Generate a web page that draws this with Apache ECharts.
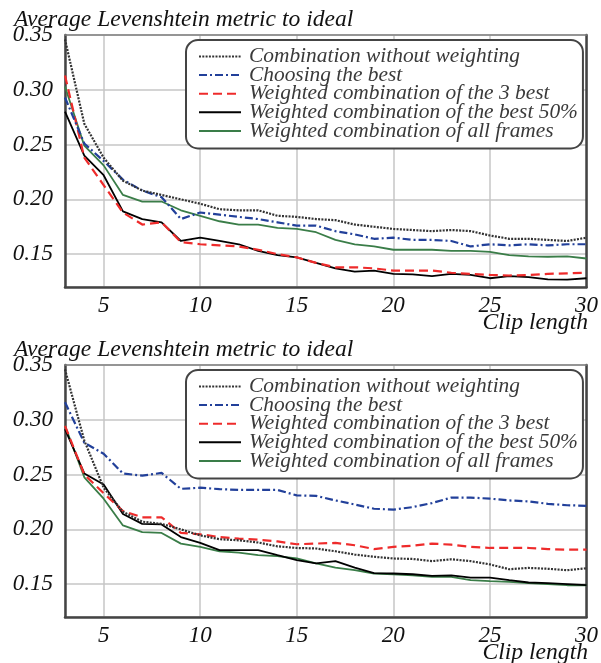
<!DOCTYPE html>
<html>
<head>
<meta charset="utf-8">
<script src="https://cdn.jsdelivr.net/npm/echarts@6/dist/echarts.min.js"></script>
<style>html,body{margin:0;padding:0;background:#fff}#c{width:601px;height:663px}</style>
</head>
<body>
<div id="c"></div>
<script>
const clipLengths = [3,4,5,6,7,8,9,10,11,12,13,14,15,16,17,18,19,20,21,22,23,24,25,26,27,28,29,30];
const seriesNames = ['Combination without weighting','Choosing the best','Weighted combination of the 3 best','Weighted combination of the best 50%','Weighted combination of all frames'];
const titleText = 'Average Levenshtein metric to ideal';
const xName = 'Clip length';

const noWeightTop = [0.346,0.269,0.238,0.217,0.208,0.204,0.200,0.196,0.191,0.190,0.190,0.185,0.184,0.182,0.181,0.177,0.175,0.173,0.172,0.171,0.172,0.171,0.167,0.164,0.164,0.163,0.162,0.165];
const bestTop = [0.293,0.251,0.235,0.218,0.208,0.202,0.182,0.188,0.186,0.184,0.182,0.179,0.176,0.176,0.171,0.168,0.164,0.165,0.163,0.163,0.162,0.157,0.159,0.158,0.159,0.158,0.159,0.159];
const best3Top = [0.313,0.238,0.213,0.188,0.177,0.179,0.161,0.159,0.158,0.157,0.154,0.150,0.147,0.142,0.138,0.138,0.137,0.135,0.135,0.135,0.133,0.132,0.131,0.1305,0.131,0.132,0.1325,0.133];
const best50Top = [0.280,0.240,0.222,0.189,0.182,0.179,0.162,0.165,0.162,0.159,0.153,0.149,0.147,0.142,0.137,0.134,0.135,0.132,0.1315,0.130,0.132,0.131,0.128,0.130,0.129,0.127,0.1267,0.128];
const allTop = [0.303,0.249,0.231,0.204,0.198,0.198,0.190,0.185,0.180,0.177,0.177,0.174,0.173,0.170,0.163,0.159,0.157,0.154,0.154,0.154,0.153,0.153,0.152,0.149,0.148,0.1476,0.148,0.146];

const noWeightBot = [0.346,0.281,0.238,0.216,0.207,0.205,0.200,0.1945,0.191,0.190,0.188,0.1845,0.183,0.1825,0.180,0.177,0.175,0.1734,0.173,0.171,0.1727,0.171,0.168,0.1636,0.1648,0.164,0.1627,0.1645];
const bestBot = [0.316,0.279,0.269,0.251,0.249,0.2515,0.237,0.238,0.2367,0.236,0.236,0.236,0.231,0.2306,0.2264,0.2227,0.2188,0.218,0.2203,0.224,0.229,0.229,0.228,0.2264,0.2255,0.2233,0.222,0.2215];
const best3Bot = [0.2945,0.250,0.233,0.2167,0.211,0.211,0.1967,0.1955,0.193,0.1915,0.1906,0.189,0.1864,0.187,0.1876,0.1855,0.182,0.184,0.185,0.187,0.186,0.184,0.183,0.183,0.183,0.182,0.1815,0.1815];
const best50Bot = [0.2915,0.251,0.241,0.214,0.205,0.2045,0.193,0.1876,0.181,0.181,0.181,0.1764,0.172,0.169,0.171,0.165,0.160,0.1597,0.159,0.1576,0.158,0.156,0.156,0.1536,0.1515,0.151,0.150,0.149];
const allBot = [0.2945,0.2475,0.228,0.2036,0.1975,0.1967,0.187,0.184,0.180,0.1788,0.1764,0.1755,0.1734,0.169,0.165,0.1627,0.1597,0.159,0.158,0.1567,0.1567,0.1536,0.1527,0.152,0.151,0.150,0.149,0.149];

const topData = [noWeightTop, bestTop, best3Top, best50Top, allTop];
const botData = [noWeightBot, bestBot, best3Bot, best50Bot, allBot];

const FONT = '"Liberation Serif", "Times New Roman", Times, serif';
const styles = [
  {color:'#333333', width:2.2, type:[2,1.3]},
  {color:'#22409a', width:2.2, type:[8,3,2,3]},
  {color:'#ee2b2b', width:2.2, type:[9,5]},
  {color:'#000000', width:1.8, type:'solid'},
  {color:'#3a7d48', width:1.8, type:'solid'}
];

const chart = echarts.init(document.getElementById('c'), null, {renderer:'canvas'});

const gridTops = [35, 365];
const grids = gridTops.map(t => ({left:65, top:t, width:522, height:252, show:false}));

const xAxes = [];
const yAxes = [];
[0,1].forEach(i => {
  xAxes.push({
    type:'value', gridIndex:i, min:3, max:30, splitNumber:5, position:'bottom',
    axisLine:{show:true, onZero:false, lineStyle:{color:'#444', width:2.5}},
    axisTick:{show:false},
    axisLabel:{showMinLabel:false, margin:7, color:'#111', fontFamily:FONT, fontStyle:'italic', fontSize:23},
    splitLine:{show:true, lineStyle:{color:'#c6c6c6', width:1.5}}
  });
  yAxes.push({
    type:'value', gridIndex:i, min:0.12, max:0.35, splitNumber:5, position:'left',
    axisLine:{show:true, onZero:false, lineStyle:{color:'#444', width:2.5}},
    axisTick:{show:false},
    axisLabel:{showMinLabel:false, margin:12, color:'#111', fontFamily:FONT, fontStyle:'italic', fontSize:23,
      formatter: v => v.toFixed(2)},
    splitLine:{show:true, lineStyle:{color:'#c6c6c6', width:1.5}}
  });
});
[0,1].forEach(i => {
  xAxes.push({type:'value', gridIndex:i, position:'top', min:0, max:1,
    axisLine:{show:true, onZero:false, lineStyle:{color:'#808080', width:1.5}},
    axisTick:{show:false}, axisLabel:{show:false}, splitLine:{show:false}});
  yAxes.push({type:'value', gridIndex:i, position:'right', min:0, max:1,
    axisLine:{show:true, onZero:false, lineStyle:{color:'#444', width:2.5}},
    axisTick:{show:false}, axisLabel:{show:false}, splitLine:{show:false}});
});

const series = [];
[topData, botData].forEach((set, gi) => {
  set.forEach((vals, si) => {
    series.push({
      type:'line', name:seriesNames[si], xAxisIndex:gi, yAxisIndex:gi,
      data: clipLengths.map((x, k) => [x, vals[k]]),
      symbol:'none', smooth:false, animation:false,
      lineStyle:{color:styles[si].color, width:styles[si].width, type:styles[si].type},
      itemStyle:{color:styles[si].color},
      z: 10 - si
    });
  });
});

const legends = gridTops.map(t => ({
  orient:'vertical', left:186, top:t+5,
  data: seriesNames,
  itemWidth:42, itemHeight:10, itemGap:-2.4,
  padding:[6,5,7,12],
  backgroundColor:'#fff', borderColor:'#444', borderWidth:2, borderRadius:12,
  selectedMode:false,
  itemStyle:{opacity:0},
  textStyle:{fontFamily:FONT, fontStyle:'italic', fontSize:21.4, color:'#3a3a3a', padding:[0,0,0,3]}
}));

const titles = [];
gridTops.forEach(t => {
  titles.push({text:titleText, left:14, top:t-27, padding:0,
    textStyle:{fontFamily:FONT, fontStyle:'italic', fontWeight:'normal', fontSize:23.6, color:'#111'}});
  titles.push({text:xName, right:13, top:t+276, padding:0,
    textStyle:{fontFamily:FONT, fontStyle:'italic', fontWeight:'normal', fontSize:23.6, color:'#111'}});
});

chart.setOption({
  animation:false,
  backgroundColor:'#fff',
  title: titles,
  legend: legends,
  grid: grids,
  xAxis: xAxes,
  yAxis: yAxes,
  series: series
});
</script>
</body>
</html>
